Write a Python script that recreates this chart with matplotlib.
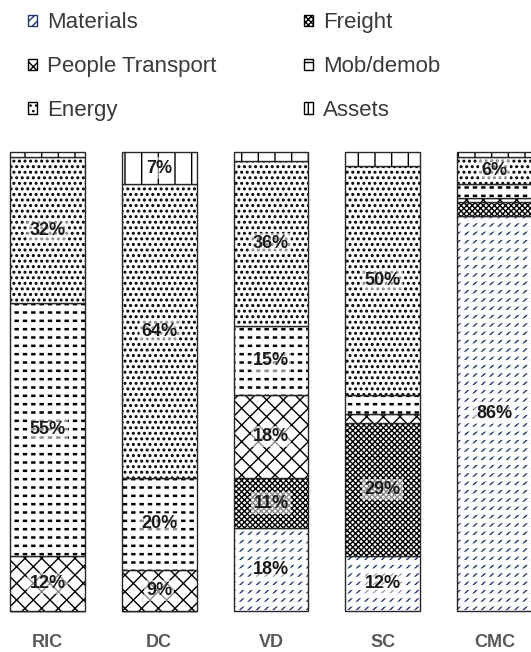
import matplotlib.pyplot as plt
import matplotlib.patches as mpatches
import numpy as np

plt.rcParams['font.family'] = ['Liberation Sans', 'DejaVu Sans']
plt.rcParams['hatch.linewidth'] = 1.0

sites = ['RIC', 'DC', 'VD', 'SC', 'CMC']
categories = ['Materials', 'Freight', 'People Transport', 'Mob/demob', 'Energy', 'Assets']

# share (%) of each category, bottom to top
materials = [0, 0, 18, 12, 86]
freight = [0, 0, 11, 29, 3]
people = [12, 9, 18, 2, 1]
mobdemob = [55, 20, 15, 4, 3]
energy = [32, 64, 36, 50, 6]
assets = [1, 7, 2, 3, 1]

series = [materials, freight, people, mobdemob, energy, assets]
hatches = ['////', 'xxxxxx', 'xx', '--', '...', '|']
hatch_colors = ['#1f3864', 'black', 'black', 'black', 'black', 'black']
hatch_widths = [1.0, 1.0, 1.0, 1.8, 1.4, 1.0]
# white hatch laid on top to break lines into dashes: (hatch, linewidth)
breakers = [('--', 3.5), None, None, ('||', 2.8), None, None]


def hatched_bar(ax, x, h, w, b, hatch, color, lw=1.0):
    bars = ax.bar(x, h, w, bottom=b, fill=False, edgecolor=color, hatch=hatch,
                  linewidth=0, clip_on=False)
    for p in bars:
        if hasattr(p, 'set_hatch_linewidth'):
            p.set_hatch_linewidth(lw)
    return bars


fig = plt.figure(figsize=(5.31, 6.52), dpi=100)
ax = fig.add_axes([0, 41 / 652, 1, 459 / 652])

x = np.arange(len(sites))
width = 0.67
bottom = np.zeros(len(sites))
for vals, h, hc, hw, brk in zip(series, hatches, hatch_colors, hatch_widths, breakers):
    vals = np.array(vals, dtype=float)
    ax.bar(x, vals, width, bottom=bottom, color='white', linewidth=0, clip_on=False)
    with plt.rc_context({'hatch.linewidth': hw}):
        hatched_bar(ax, x, vals, width, bottom, h, hc, hw)
    if brk is not None:
        with plt.rc_context({'hatch.linewidth': brk[1]}):
            hatched_bar(ax, x, vals, width, bottom, brk[0], 'white', brk[1])
    ax.bar(x, vals, width, bottom=bottom, fill=False, edgecolor='#262626',
           linewidth=1.0, clip_on=False)
    for xi, v, b in zip(x, vals, bottom):
        if v >= 6:
            ax.text(xi, b + v / 2, f'{v:.0f}%', ha='center', va='center',
                    fontsize=13, fontweight='bold', color='#1a1a1a', zorder=5,
                    bbox=dict(facecolor='white', alpha=0.55, edgecolor='none', pad=1.5))
    bottom += vals

ax.set_xlim(-0.425, 4.327)
ax.set_ylim(0, 100)
ax.set_xticks(x)
ax.set_xticklabels(sites, fontsize=13, fontweight='bold', color='#595959')
ax.tick_params(axis='x', length=0, pad=16.5)
ax.set_yticks([])
for s in ax.spines.values():
    s.set_visible(False)

handles = [mpatches.Patch(facecolor='white', edgecolor=hc, hatch=h, linewidth=1.0, label=c)
           for c, h, hc in zip(categories, hatches, hatch_colors)]
# legend fills column-major, reference reads row-major
order = [0, 2, 4, 1, 3, 5]
fig.legend([handles[i] for i in order], [categories[i] for i in order],
           ncol=2, loc='upper left', bbox_to_anchor=(0.016, 1.012), frameon=False,
           fontsize=16, handlelength=0.4, handleheight=0.4, handletextpad=0.45,
           columnspacing=3.93, labelspacing=1.03, labelcolor='#3a3a3a')

fig.savefig('out.png', dpi=100)
